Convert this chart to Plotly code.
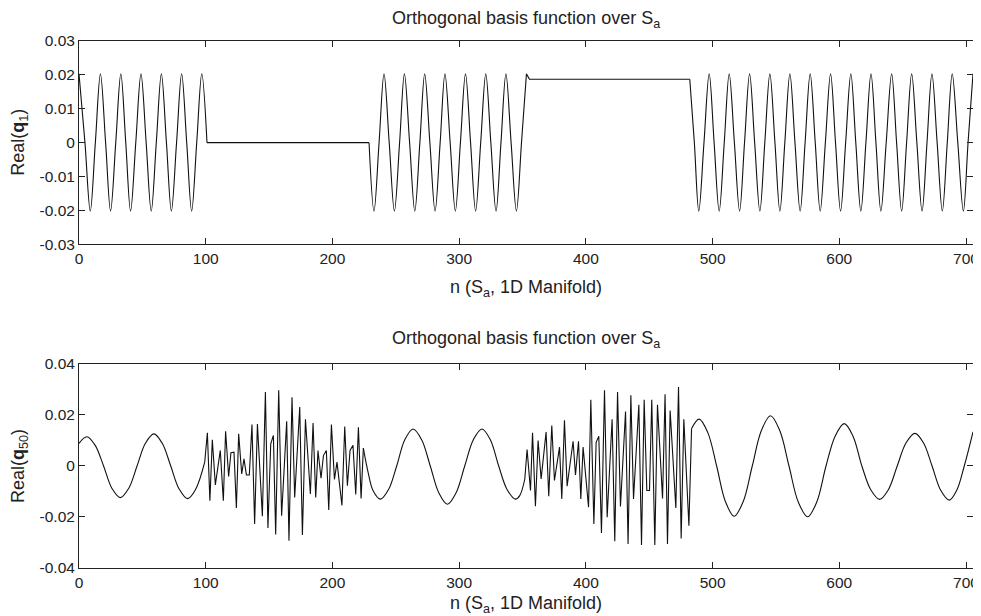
import plotly.graph_objects as go

# ---------------- data: top panel, Real(q1) ----------------
P1, T1 = 0.0203, -0.0202
q1_seg1_n = [0, 4.7, 8.9, 12.9, 16.9, 21, 24.9, 29, 33, 36.9, 40.7, 44.8, 48.9, 53, 57, 61,
             65, 69, 72.9, 77, 81, 85, 88.9, 92.9, 96.9, 101]
q1_seg1_v = [P1, 0, T1, 0] * 6 + [P1, 0]
q1_flat1_n = [101, 228.9]
q1_flat1_v = [0, 0]
q1_seg2_n = [228.9, 232.8, 236.8, 240.7, 244.8, 248.9, 253, 256.8, 260.9, 265, 269, 272.8,
             276.9, 281, 285, 288.8, 292.9, 297, 301, 305, 309, 313, 317, 321, 325, 329.1,
             333, 336.9, 341, 345.2, 349.2, 353.1]
q1_seg2_v = [0, T1, 0, P1] * 8
q1_flat2_n = [353.1, 354.3, 355.5, 482]
q1_flat2_v = [0.0203, 0.0193, 0.0187, 0.0187]
q1_seg3_n = [482, 485.6, 489.1, 493.2, 497.3, 501.2, 505.2, 509.2, 513.1, 517.2, 521.3, 525.2,
             529.2, 533.2, 537.3, 541.2, 545.2, 549.2, 553.1, 557, 561, 565, 569.1, 573, 577,
             581, 584.9, 589, 593.1, 597, 601, 605, 609.1, 613, 617, 621, 625, 628.9, 632.8,
             637, 641.3, 645.2, 649.2, 653.1, 657.1, 661.2, 665.3, 669.2, 673.1, 677.2, 681.3,
             685.2, 689.1, 693.5, 697.9, 701.6, 705.5]
q1_seg3_v = [0.0187, 0] + [T1, 0, P1, 0] * 13 + [T1, 0, P1]

# ---------------- data: bottom panel, Real(q50) ----------------
q50_smooth1_n = [0, 6.2, 12.8, 19.4, 26.0, 32.6, 39.2, 45.8, 52.4, 59.1, 65.7, 72.4, 79.0,
                 85.7, 92.0, 99.2]
q50_smooth1_v = [0.0089, 0.0115, 0.0081, 0, -0.0088, -0.0124, -0.0088, 0, 0.0089, 0.0126,
                 0.0089, 0, -0.0090, -0.0128, -0.0092, 0.0015]
q50_noisy1_n = [99.2, 101.3, 103.3, 105.2, 107.6, 111.5, 113.9, 115.7, 118.1, 119.9, 122.3,
                124.2, 126.0, 128.4, 130.2, 132.1, 134.4, 136.5, 138.6, 140.8, 144.7, 147.1,
                149.1, 151.3, 153.4, 155.2, 157.6, 159.9, 163.9, 165.7, 168.1, 170.2, 174.2,
                176.3, 178.7, 182.6, 184.7, 186.8, 188.6, 191.0, 192.9, 195.2, 197.1, 199.2,
                201.6, 203.6, 207.5, 209.7, 211.8, 213.9, 216.2, 218.4, 220.5, 222.6, 224.4]
q50_noisy1_v = [0.0015, 0.0130, -0.0136, 0.0103, -0.0074, 0.0061, -0.0136, 0.0136, -0.0041,
                0.0052, 0.0054, -0.0165, 0.0126, -0.0031, 0.0028, -0.0035, -0.0035, 0.0163,
                -0.0227, 0.0165, -0.0197, 0.0290, -0.0243, 0.0087, 0.0120, -0.0269, 0.0297,
                -0.0195, 0.0175, -0.0293, 0.0270, -0.0123, 0.0231, -0.0271, 0.0183, -0.0110,
                0.0169, -0.0123, 0.0061, -0.0048, 0.0041, 0.0061, -0.0172, 0.0163, -0.0053,
                0.0015, -0.0155, 0.0155, -0.0077, 0.0061, 0.0081, -0.0112, 0.0152, -0.0127,
                0.0070]
q50_smooth2_n = [224.4, 228.1, 232.0, 237.9, 244.3, 250.7, 257.1, 263.6, 270.4, 277.2, 284.0,
                 290.7, 297.5, 304.4, 311.2, 318.0, 324.6, 331.2, 337.8, 344.4, 347.8, 351.8]
q50_smooth2_v = [0.0070, -0.0024, -0.0096, -0.0130, -0.0092, 0, 0.0103, 0.0145, 0.0103, 0,
                 -0.0106, -0.0150, -0.0106, 0, 0.0103, 0.0145, 0.0103, 0, -0.0092, -0.0130,
                 -0.0116, -0.0051]
q50_noisy2_n = [351.8, 353.6, 356.3, 357.9, 360.2, 362.3, 364.7, 368.6, 370.7, 373.1, 375.2,
                379.2, 381.0, 383.1, 385.2, 389.9, 391.8, 394.2, 396.0, 397.8, 402.1, 403.9,
                406.3, 408.1, 410.2, 412.3, 414.7, 416.8, 420.7, 422.8, 425.0, 427.3, 431.3,
                433.3, 435.5, 437.6, 441.8, 443.9, 446.0, 448.1, 450.2, 452.0, 454.4, 456.5,
                460.5, 462.5, 464.4, 466.5, 471.0, 473.1, 475.2, 477.3, 481.3, 483.4]
q50_noisy2_v = [-0.0051, 0.0065, -0.0096, 0.0130, -0.0158, 0.0100, -0.0051, 0.0133, -0.0119,
                0.0159, -0.0057, 0.0074, -0.0129, 0.0179, -0.0079, 0.0097, -0.0035, 0.0097,
                -0.0129, 0.0074, -0.0162, 0.0260, -0.0227, 0.0093, 0.0117, -0.0263, 0.0297,
                -0.0201, 0.0183, -0.0295, 0.0290, -0.0159, 0.0214, -0.0306, 0.0277, -0.0129,
                0.0240, -0.0310, 0.0260, -0.0096, -0.0096, 0.0260, -0.0310, 0.0240, -0.0127,
                0.0281, -0.0306, 0.0218, -0.0165, 0.0310, -0.0284, 0.0183, -0.0234, 0.0147]
q50_smooth3_n = [483.4, 489.4, 496.3, 503.2, 510.1, 517.0, 524.2, 531.3, 538.5, 545.7, 553.0,
                 560.3, 567.6, 575.0, 582.2, 589.5, 596.7, 603.9, 610.8, 617.8, 624.8, 631.8,
                 638.7, 645.7, 652.7, 659.7, 666.4, 673.2, 680.0, 686.8, 692.7, 698.6, 705.5]
q50_smooth3_v = [0.0147, 0.0184, 0.0130, 0, -0.0139, -0.0197, -0.0139, 0, 0.0139, 0.0197,
                 0.0139, 0, -0.0141, -0.0199, -0.0141, 0, 0.0117, 0.0166, 0.0117, 0, -0.0093,
                 -0.0131, -0.0093, 0, 0.0091, 0.0128, 0.0091, 0, -0.0095, -0.0134, -0.0095, 0,
                 0.0134]

x_ticks = [0, 100, 200, 300, 400, 500, 600, 700]
y1_ticks = [-0.03, -0.02, -0.01, 0, 0.01, 0.02, 0.03]
y1_labels = ["-0.03", "-0.02", "-0.01", "0", "0.01", "0.02", "0.03"]
y2_ticks = [-0.04, -0.02, 0, 0.02, 0.04]
y2_labels = ["-0.04", "-0.02", "0", "0.02", "0.04"]

# ---------------- figure ----------------
LINE = dict(color="#111", width=1.1)
fig = go.Figure()


def add(n, v, shape, xa, ya):
    line = dict(LINE, shape=shape)
    if shape == "spline":
        line["smoothing"] = 1.0
    fig.add_trace(go.Scatter(x=n, y=v, mode="lines", line=line, xaxis=xa, yaxis=ya,
                             hoverinfo="skip", showlegend=False))


add(q1_seg1_n, q1_seg1_v, "spline", "x", "y")
add(q1_flat1_n, q1_flat1_v, "linear", "x", "y")
add(q1_seg2_n, q1_seg2_v, "spline", "x", "y")
add(q1_flat2_n, q1_flat2_v, "linear", "x", "y")
add(q1_seg3_n, q1_seg3_v, "spline", "x", "y")

add(q50_smooth1_n, q50_smooth1_v, "spline", "x2", "y2")
add(q50_noisy1_n, q50_noisy1_v, "linear", "x2", "y2")
add(q50_smooth2_n, q50_smooth2_v, "spline", "x2", "y2")
add(q50_noisy2_n, q50_noisy2_v, "linear", "x2", "y2")
add(q50_smooth3_n, q50_smooth3_v, "spline", "x2", "y2")

FS = 15.5      # tick labels
FL = 18        # titles and axis labels
AX = dict(showline=True, linecolor="#222", linewidth=1, mirror="ticks", ticks="inside",
          ticklen=6, tickcolor="#222", tickwidth=1, showgrid=False, zeroline=False,
          automargin=False, tickfont=dict(size=FS, color="#222"))

TOP_D = [0.6142, 1.0]
BOT_D = [0.0, 0.3871]

# page body adds an 8px offset, so the figure is 8px smaller than the window
fig.update_layout(
    width=973, height=608,
    margin=dict(l=71, r=8, t=33, b=48, autoexpand=False),
    paper_bgcolor="white", plot_bgcolor="white",
    font=dict(family="Liberation Sans, Arial, sans-serif", size=FS, color="#222"),
    xaxis=dict(AX, domain=[0, 1], anchor="y", range=[0, 705.5], tickvals=x_ticks),
    yaxis=dict(AX, domain=TOP_D, anchor="x", range=[-0.03, 0.03], tickvals=y1_ticks,
               ticktext=y1_labels),
    xaxis2=dict(AX, domain=[0, 1], anchor="y2", range=[0, 705.5], tickvals=x_ticks),
    yaxis2=dict(AX, domain=BOT_D, anchor="x2", range=[-0.04, 0.04], tickvals=y2_ticks,
                ticktext=y2_labels),
)

title_txt = "Orthogonal basis function over S<sub>a</sub>"
xlab_txt = "n (S<sub>a</sub>, 1D Manifold)"
ann = []
for ytop, ybot, ylab, t_shift, xlab_shift in [
        (TOP_D[1], TOP_D[0], "Real(<b>q</b><sub>1</sub>)", 22, -44),
        (BOT_D[1], BOT_D[0], "Real(<b>q</b><sub>50</sub>)", 24.5, -36)]:
    ann.append(dict(text=title_txt, x=0.5, y=ytop, xref="paper", yref="paper",
                    xanchor="center", yanchor="middle", yshift=t_shift, showarrow=False,
                    font=dict(size=FL)))
    ann.append(dict(text=xlab_txt, x=0.5, y=ybot, xref="paper", yref="paper",
                    xanchor="center", yanchor="middle", yshift=xlab_shift, showarrow=False,
                    font=dict(size=FL)))
    ann.append(dict(text=ylab, x=0, y=(ytop + ybot) / 2, xref="paper", yref="paper",
                    xanchor="center", yanchor="middle", xshift=-59, showarrow=False,
                    textangle=-90, font=dict(size=FL)))
fig.update_layout(annotations=ann)

fig.write_html("out.html")
